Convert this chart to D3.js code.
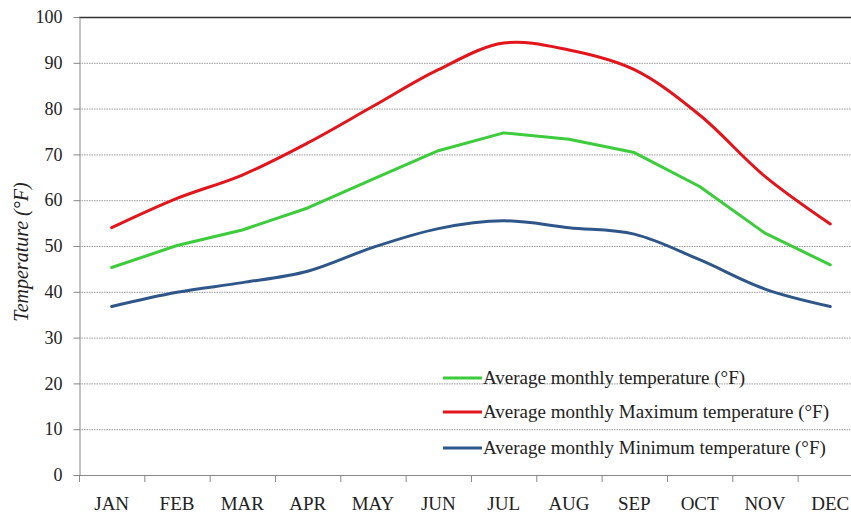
<!DOCTYPE html>
<html>
<head>
<meta charset="utf-8">
<script src="https://cdn.jsdelivr.net/npm/d3@7"></script>
<style>
  body { margin: 0; background: #fff; }
  svg { display: block; }
  text { font-family: "Liberation Serif", "Times New Roman", serif; fill: #222; }
</style>
</head>
<body>
<svg id="chart" width="851" height="512"></svg>
<script>
// DATA
var months = ['JAN', 'FEB', 'MAR', 'APR', 'MAY', 'JUN', 'JUL', 'AUG', 'SEP', 'OCT', 'NOV', 'DEC'];
var avgTemp = [45.3, 50.1, 53.5, 58.3, 64.6, 70.8, 74.7, 73.3, 70.4, 63.0, 52.8, 45.9];
var maxTemp = [54.0, 60.4, 65.5, 72.5, 80.5, 88.5, 94.3, 92.8, 88.5, 78.6, 65.2, 54.8];
var minTemp = [36.8, 39.9, 42.0, 44.5, 49.7, 53.8, 55.5, 54.0, 52.6, 47.0, 40.6, 36.8];
var yTicks = [0, 10, 20, 30, 40, 50, 60, 70, 80, 90, 100];

var series = [
  { label: 'Average monthly temperature (°F)', values: avgTemp, color: '#3ccc3c', curve: d3.curveLinear },
  { label: 'Average monthly Maximum temperature (°F)', values: maxTemp, color: '#e3151c', curve: d3.curveCatmullRom },
  { label: 'Average monthly Minimum temperature (°F)', values: minTemp, color: '#2f5689', curve: d3.curveCatmullRom }
];

var serif = '"Liberation Serif", "Times New Roman", serif';

// SETUP
var svg = d3.select('#chart');
var plotLeft = 79, plotTop = 17, plotBottom = 475;
var bandW = 65.33;

var x = d3.scaleBand()
  .domain(months)
  .range([plotLeft, plotLeft + bandW * months.length]);

var y = d3.scaleLinear()
  .domain([0, 100])
  .range([plotBottom, plotTop]);

// gridlines (dotted), top one solid
svg.append('g')
  .selectAll('line')
  .data(yTicks.filter(function (d) { return d > 0; }))
  .enter()
  .append('line')
  .attr('x1', plotLeft)
  .attr('x2', 851)
  .attr('y1', function (d) { return y(d) + 0.5; })
  .attr('y2', function (d) { return y(d) + 0.5; })
  .attr('stroke', function (d) { return d === 100 ? '#333' : '#9a9a9a'; })
  .attr('stroke-width', function (d) { return d === 100 ? 1.5 : 1; })
  .attr('stroke-dasharray', function (d) { return d === 100 ? null : '1.5,1'; });

// y axis
var yAxis = svg.append('g')
  .attr('transform', 'translate(' + (plotLeft + 0.5) + ',0)')
  .call(d3.axisLeft(y).tickValues(yTicks).tickSize(6).tickSizeOuter(0).tickPadding(11))
  .attr('font-family', serif)
  .attr('font-size', 18);
yAxis.select('.domain').attr('stroke', '#888');
yAxis.selectAll('.tick line').attr('stroke', '#888');
yAxis.selectAll('.tick text').attr('fill', '#222');

// x axis: labels at band centres
var xAxis = svg.append('g')
  .attr('transform', 'translate(0,' + (plotBottom + 0.5) + ')')
  .call(d3.axisBottom(x).tickSize(0).tickPadding(21))
  .attr('font-family', serif)
  .attr('font-size', 19);
xAxis.select('.domain').remove();
xAxis.selectAll('.tick text').attr('fill', '#222');

// x axis line and boundary ticks
svg.append('line')
  .attr('x1', plotLeft)
  .attr('x2', 851)
  .attr('y1', plotBottom + 0.5)
  .attr('y2', plotBottom + 0.5)
  .attr('stroke', '#888');
svg.append('g')
  .selectAll('line')
  .data(months)
  .enter()
  .append('line')
  .attr('x1', function (d) { return x(d) + 0.5; })
  .attr('x2', function (d) { return x(d) + 0.5; })
  .attr('y1', plotBottom)
  .attr('y2', plotBottom + 7)
  .attr('stroke', '#888');

// y axis title
svg.append('text')
  .attr('transform', 'translate(28,' + 252 + ') rotate(-90)')
  .attr('text-anchor', 'middle')
  .style('font-size', '20px')
  .style('font-style', 'italic')
  .text('Temperature (°F)');

// lines
series.forEach(function (s) {
  var line = d3.line()
    .x(function (d, i) { return x(months[i]) + x.bandwidth() / 2; })
    .y(function (d) { return y(d); })
    .curve(s.curve);
  svg.append('path')
    .datum(s.values)
    .attr('d', line)
    .attr('fill', 'none')
    .attr('stroke', s.color)
    .attr('stroke-width', 3)
    .attr('stroke-linejoin', 'round')
    .attr('stroke-linecap', 'round');
});

// legend
var legendY = [378, 412, 448];
var legend = svg.append('g');
series.forEach(function (s, i) {
  legend.append('line')
    .attr('x1', 443)
    .attr('x2', 482)
    .attr('y1', legendY[i])
    .attr('y2', legendY[i])
    .attr('stroke', s.color)
    .attr('stroke-width', 3);
  legend.append('text')
    .attr('x', 483)
    .attr('y', legendY[i] + 6)
    .style('font-size', '19px')
    .text(s.label);
});
</script>
</body>
</html>
